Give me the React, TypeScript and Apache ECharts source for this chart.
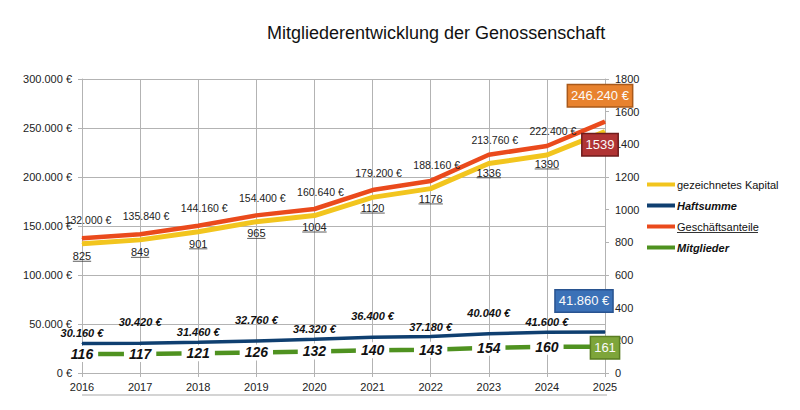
import { useEffect, useRef } from "react";
import * as echarts from "echarts";

const years = ["2016", "2017", "2018", "2019", "2020", "2021", "2022", "2023", "2024", "2025"];
const gezeichnetesKapital = [132000, 135840, 144160, 154400, 160640, 179200, 188160, 213760, 222400, 246240];
const haftsumme = [30160, 30420, 31460, 32760, 34320, 36400, 37180, 40040, 41600, 41860];
const geschaeftsanteile = [825, 849, 901, 965, 1004, 1120, 1176, 1336, 1390, 1539];
const mitglieder = [116, 117, 121, 126, 132, 140, 143, 154, 160, 161];

const YELLOW = "#f2c51e";
const NAVY = "#0f3f70";
const RED = "#ea4a1c";
const GREEN = "#4f9220";
const GRID = "#b3b3b3";
const FONT = "Liberation Sans";

const euro = (v: number) => String(v).replace(/\B(?=(\d{3})+(?!\d))/g, ".") + " €";

const boxLabel = (bg: string, border: string, offset: number[]) => ({
  show: true,
  position: "inside",
  offset,
  backgroundColor: bg,
  borderColor: border,
  borderWidth: 1.5,
  padding: [4, 3],
  color: "#fafafa",
  fontSize: 13,
  fontStyle: "normal",
  fontWeight: "normal",
  fontFamily: FONT,
});

const App = () => {
  const chartRef = useRef<HTMLDivElement>(null);

  useEffect(() => {
    document.body.style.margin = "0";
    if (!chartRef.current) return;
    const chart = echarts.init(chartRef.current, null, { renderer: "svg" });
    const last = years.length - 1;

    chart.setOption({
      animation: false,
      textStyle: { fontFamily: FONT },
      title: {
        text: "Mitgliederentwicklung der Genossenschaft",
        left: 262,
        top: 19,
        textStyle: { fontSize: 18, fontWeight: "normal", color: "#111", fontFamily: FONT },
      },
      legend: {
        orient: "vertical",
        left: 647,
        top: 179,
        icon: "rect",
        itemWidth: 28,
        itemHeight: 4,
        itemGap: 10,
        padding: 0,
        textStyle: { fontSize: 11, color: "#111", fontFamily: FONT, padding: [0, 0, 0, -3] },
        data: [
          { name: "gezeichnetes Kapital" },
          { name: "Haftsumme", textStyle: { fontWeight: "bold", fontStyle: "italic" } },
          { name: "Geschäftsanteile" },
          { name: "Mitglieder", textStyle: { fontWeight: "bold", fontStyle: "italic" } },
        ],
      },
      grid: { left: 82, right: 195, top: 79, bottom: 37 },
      xAxis: {
        type: "category",
        data: years,
        boundaryGap: false,
        axisLine: { lineStyle: { color: GRID } },
        axisTick: { show: true, length: 4, lineStyle: { color: GRID } },
        splitLine: { show: true, lineStyle: { color: GRID } },
        axisLabel: { fontSize: 11, color: "#222", margin: 8 },
      },
      yAxis: [
        {
          type: "value",
          min: 0,
          max: 300000,
          interval: 50000,
          axisLine: { show: true, lineStyle: { color: GRID } },
          axisTick: { show: true, length: 4, lineStyle: { color: GRID } },
          splitLine: { show: true, lineStyle: { color: GRID } },
          axisLabel: { fontSize: 11, color: "#222", margin: 10, formatter: (v: number) => euro(v) },
        },
        {
          type: "value",
          min: 0,
          max: 1800,
          interval: 200,
          axisLine: { show: true, lineStyle: { color: GRID } },
          axisTick: { show: true, length: 4, lineStyle: { color: GRID } },
          splitLine: { show: false },
          axisLabel: { fontSize: 11, color: "#222", margin: 10, formatter: (v: number) => String(v) },
        },
      ],
      series: [
        {
          name: "gezeichnetes Kapital",
          type: "line",
          yAxisIndex: 0,
          symbol: "circle",
          symbolSize: 1,
          itemStyle: { color: YELLOW },
          lineStyle: { color: YELLOW, width: 5 },
          label: {
            show: true,
            position: "top",
            distance: 18,
            offset: [6, 0],
            fontSize: 10.5,
            color: "#222",
            formatter: (p: any) => euro(p.value),
          },
          data: gezeichnetesKapital.map((v, i) =>
            i === last ? { value: v, label: boxLabel("#e8822e", "#a9591a", [-5, -36]) } : v
          ),
        },
        {
          name: "Haftsumme",
          type: "line",
          yAxisIndex: 0,
          symbol: "circle",
          symbolSize: 1,
          itemStyle: { color: NAVY },
          lineStyle: { color: NAVY, width: 3.5 },
          label: {
            show: true,
            position: "top",
            distance: 4,
            fontSize: 11,
            fontWeight: "bold",
            fontStyle: "italic",
            color: "#111",
            formatter: (p: any) => euro(p.value),
          },
          data: haftsumme.map((v, i) =>
            i === last
              ? { value: v, label: boxLabel("#3b71b7", "#285390", [-21, -31]) }
              : i % 2 === 1
              ? { value: v, label: { offset: [0, -11] } }
              : v
          ),
        },
        {
          name: "Geschäftsanteile",
          type: "line",
          yAxisIndex: 1,
          symbol: "circle",
          symbolSize: 1,
          itemStyle: { color: RED },
          lineStyle: { color: RED, width: 4.5 },
          label: {
            show: true,
            position: "bottom",
            distance: 12,
            fontSize: 11,
            color: "#222",
          },
          data: geschaeftsanteile.map((v, i) =>
            i === last ? { value: v, label: boxLabel("#b03434", "#6f1c1c", [-5, 23]) } : v
          ),
        },
        {
          name: "Geschäftsanteile Unterstrich",
          type: "scatter",
          yAxisIndex: 1,
          silent: true,
          symbol: "rect",
          symbolSize: (v: number) => [String(v).length * 6.1, 1],
          symbolOffset: [0, 23],
          itemStyle: { color: "#333" },
          data: geschaeftsanteile.slice(0, last),
        },
        {
          name: "Mitglieder",
          type: "line",
          yAxisIndex: 1,
          symbol: "circle",
          symbolSize: 1,
          itemStyle: { color: GREEN },
          lineStyle: { color: GREEN, width: 4.5 },
          label: {
            show: true,
            position: "inside",
            fontSize: 14,
            fontWeight: "bold",
            fontStyle: "italic",
            color: "#111",
            backgroundColor: "#fff",
            padding: [1, 5],
          },
          data: mitglieder.map((v, i) =>
            i === last ? { value: v, label: boxLabel("#7ea53a", "#5a7d22", [0, 1]) } : v
          ),
        },
      ],
      graphic: [
        {
          type: "line",
          shape: { x1: 677, y1: 232.5, x2: 758, y2: 232.5 },
          style: { stroke: "#333", lineWidth: 1 },
        },
        {
          type: "rect",
          shape: { x: 82, y: 394, width: 525, height: 2 },
          style: { fill: "#d4d4d4" },
        },
      ],
    });

    return () => {
      chart.dispose();
    };
  }, []);

  return <div ref={chartRef} style={{ width: "800px", height: "410px" }} />;
};

export default App;
